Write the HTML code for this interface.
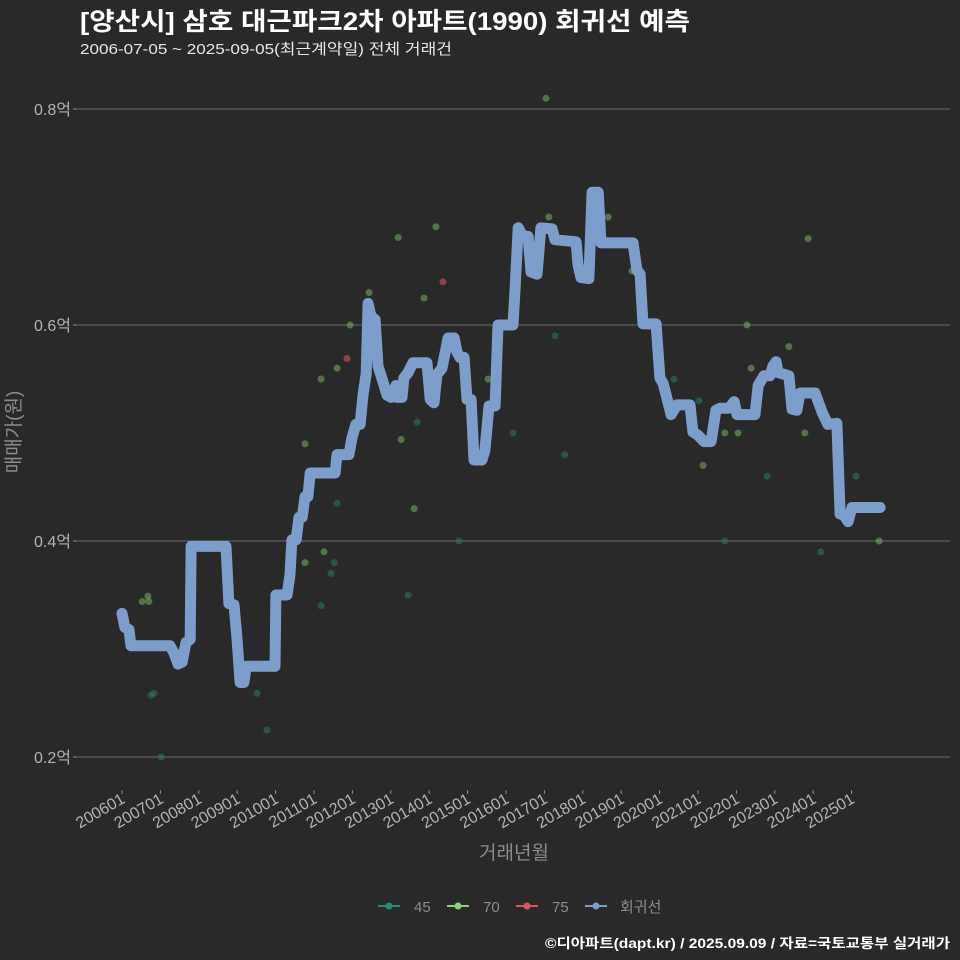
<!DOCTYPE html>
<html><head><meta charset="utf-8"><style>
body{margin:0;background:#2a292a;}
svg{display:block;font-family:"Liberation Sans","Noto Sans CJK KR",sans-serif;}
</style></head><body>
<svg id="chart" width="960" height="960" viewBox="0 0 960 960">
<rect width="960" height="960" fill="#2a292a"/>
<text x="80" y="30" fill="#ffffff" font-size="25" font-weight="bold" textLength="610" lengthAdjust="spacingAndGlyphs">[양산시] 삼호 대근파크2차 아파트(1990) 회귀선 예측</text>
<text x="80" y="54" fill="#e6e6e6" font-size="15" textLength="372" lengthAdjust="spacingAndGlyphs">2006-07-05 ~ 2025-09-05(최근계약일) 전체 거래건</text>
<g id="grid"></g>
<g id="yticks"></g>
<g id="xticks"></g>
<g id="points"></g>
<path id="reg" fill="none" stroke="#7d9dcb" stroke-width="11" stroke-linejoin="round" stroke-linecap="round"/>
<text x="514" y="859" text-anchor="middle" fill="#8c8c8c" font-size="19">거래년월</text>
<text transform="translate(20,432) rotate(-90)" text-anchor="middle" fill="#8c8c8c" font-size="19">매매가(원)</text>
<g>
<g><line x1="378" y1="906" x2="400" y2="906" stroke="#2a8a78" stroke-width="2"/><circle cx="389" cy="906" r="3.5" fill="#2a8a78"/><text x="414" y="912" fill="#8c8c8c" font-size="15">45</text></g>
<g><line x1="447" y1="906" x2="469" y2="906" stroke="#8bd17a" stroke-width="2"/><circle cx="458" cy="906" r="3.5" fill="#8bd17a"/><text x="483" y="912" fill="#8c8c8c" font-size="15">70</text></g>
<g><line x1="516" y1="906" x2="538" y2="906" stroke="#d9585e" stroke-width="2"/><circle cx="527" cy="906" r="3.5" fill="#d9585e"/><text x="552" y="912" fill="#8c8c8c" font-size="15">75</text></g>
<g><line x1="585" y1="906" x2="607" y2="906" stroke="#7d9dcb" stroke-width="2"/><circle cx="596" cy="906" r="3.5" fill="#7d9dcb"/><text x="620" y="912" fill="#8c8c8c" font-size="15">회귀선</text></g>
</g>
<text x="545" y="948" fill="#ffffff" font-size="13.5" font-weight="bold" textLength="405" lengthAdjust="spacingAndGlyphs">©디아파트(dapt.kr) / 2025.09.09 / 자료=국토교통부 실거래가</text>
</svg>
<script>
// months since 2006-01, values in 억
const regMonths=[0,0.9,2.2,2.8,15,16.3,17.5,18.8,20,21.3,21.6,32.5,33.4,35,35.9,36.9,38.1,38.8,47.8,48.1,51.6,52.5,53.1,54.4,55.3,56.3,57.2,58.1,58.8,66.6,67.2,70.9,71.9,73.1,74.4,75.3,76.3,76.9,77.8,79.1,80,81.6,82.8,84.1,85.6,85.9,87.5,88.1,89.4,90.9,95.3,96.3,97.5,98.4,100,101.9,103.8,104.7,105.6,106.9,107.8,109.1,110,112.5,113.4,114.7,116.6,117.5,122.2,122.8,123.8,125.3,126.9,127.8,129.7,130.9,134.4,135.3,141.9,142.5,143.4,145.9,146.9,148.8,149.7,159.7,160.9,161.9,162.8,166.9,168.1,169.1,171.6,173.4,177.5,178.4,180,181.9,184.1,185.6,186.9,189.7,191.3,192.2,197.8,198.8,200.6,202.5,203.4,204.4,205,208.4,209.4,210.9,211.9,216.6,217.8,218.8,220.6,223.4,224.4,225.6,226.9,228.1,236.9];
const regValues=[0.333,0.320,0.318,0.303,0.303,0.296,0.286,0.288,0.306,0.309,0.395,0.395,0.342,0.341,0.311,0.269,0.269,0.284,0.284,0.350,0.350,0.369,0.401,0.401,0.422,0.422,0.441,0.441,0.463,0.463,0.480,0.480,0.496,0.508,0.508,0.535,0.555,0.620,0.608,0.605,0.562,0.547,0.535,0.533,0.544,0.533,0.533,0.551,0.556,0.565,0.565,0.531,0.528,0.554,0.560,0.588,0.588,0.575,0.570,0.570,0.531,0.531,0.475,0.475,0.484,0.525,0.525,0.600,0.600,0.632,0.690,0.682,0.682,0.649,0.647,0.690,0.689,0.679,0.677,0.656,0.644,0.643,0.723,0.723,0.676,0.676,0.651,0.647,0.601,0.601,0.551,0.546,0.517,0.526,0.526,0.501,0.498,0.492,0.492,0.521,0.523,0.523,0.529,0.517,0.517,0.544,0.553,0.553,0.562,0.566,0.556,0.553,0.522,0.521,0.537,0.537,0.527,0.519,0.508,0.509,0.425,0.424,0.418,0.431,0.431];
const area45Months=[9.1,10,12.2,42.2,45.3,92.2,122.2,67.2,105.3,66.3,65.3,89.4,62.2,135.3,138.4,172.5,180.3,201.6,229.4,188.4,218.4];
const area45Values=[0.257,0.259,0.200,0.259,0.225,0.510,0.500,0.435,0.400,0.380,0.370,0.350,0.340,0.590,0.480,0.550,0.530,0.460,0.460,0.400,0.390];
const area70Months=[6.3,8.1,8.4,57.2,71.3,77.2,86.3,98.1,94.4,67.2,62.2,114.4,87.2,91.3,63.1,57.2,132.5,133.4,151.9,159.4,188.4,192.5,181.6,195.3,208.4,196.6,214.4,213.4,236.6];
const area70Values=[0.344,0.349,0.344,0.490,0.600,0.630,0.681,0.691,0.625,0.560,0.550,0.550,0.494,0.430,0.390,0.380,0.810,0.700,0.700,0.650,0.500,0.500,0.470,0.600,0.580,0.560,0.680,0.500,0.400];
const area75Months=[70.3,100.3];
const area75Values=[0.569,0.640];
const yTicks=[0.2,0.4,0.6,0.8];
const yTickLabels=["0.2억","0.4억","0.6억","0.8억"];
const xTickLabels=["200601","200701","200801","200901","201001","201101","201201","201301","201401","201501","201601","201701","201801","201901","202001","202101","202201","202301","202401","202501"];

const NS="http://www.w3.org/2000/svg";
function xs(m){return 122+m*3.2;}
function ys(v){return 757-(v-0.2)*1080;}
function mk(tag,attrs,parent){const e=document.createElementNS(NS,tag);for(const k in attrs)e.setAttribute(k,attrs[k]);parent.appendChild(e);return e;}

const grid=document.getElementById('grid'),yt=document.getElementById('yticks'),xt=document.getElementById('xticks');
yTicks.forEach((v,i)=>{
  const l=mk('line',{x1:75,x2:950,y1:ys(v),y2:ys(v),stroke:'#6a6a6a','stroke-width':1},grid);
  
  
  const t=mk('line',{x1:73,x2:77,y1:ys(v),y2:ys(v),stroke:'#8c8c8c'},yt);
  
  
  const tx=mk('text',{x:71,y:ys(v)+6,'text-anchor':'end',fill:'#b3b3b3','font-size':16},yt);
  tx.textContent=yTickLabels[i];
  
  
});
xTickLabels.forEach((s,i)=>{
  const x=xs(i*12);
  const t=mk('line',{x1:x,x2:x,y1:790,y2:794,stroke:'#8c8c8c'},xt);
  
  
  const tx=mk('text',{transform:`translate(${x+4},802) rotate(-30)`,'text-anchor':'end',fill:'#b3b3b3','font-size':16},xt);
  tx.textContent=s;
  
  
});
const pts=document.getElementById('points');
function drawPts(ms,vs,color,name){
  ms.forEach((m,i)=>{
    const c=mk('circle',{cx:xs(m),cy:ys(vs[i]),r:3.5,fill:color,'fill-opacity':0.55},pts);
    
    
  });
}
drawPts(area45Months,area45Values,'#2a7a68','point-45');
drawPts(area70Months,area70Values,'#77b35e','point-70');
drawPts(area75Months,area75Values,'#d9585e','point-75');
document.getElementById('reg').setAttribute('d',regMonths.map((m,i)=>(i?'L':'M')+xs(m).toFixed(1)+','+ys(regValues[i]).toFixed(1)).join(''));
</script>
</body></html>
